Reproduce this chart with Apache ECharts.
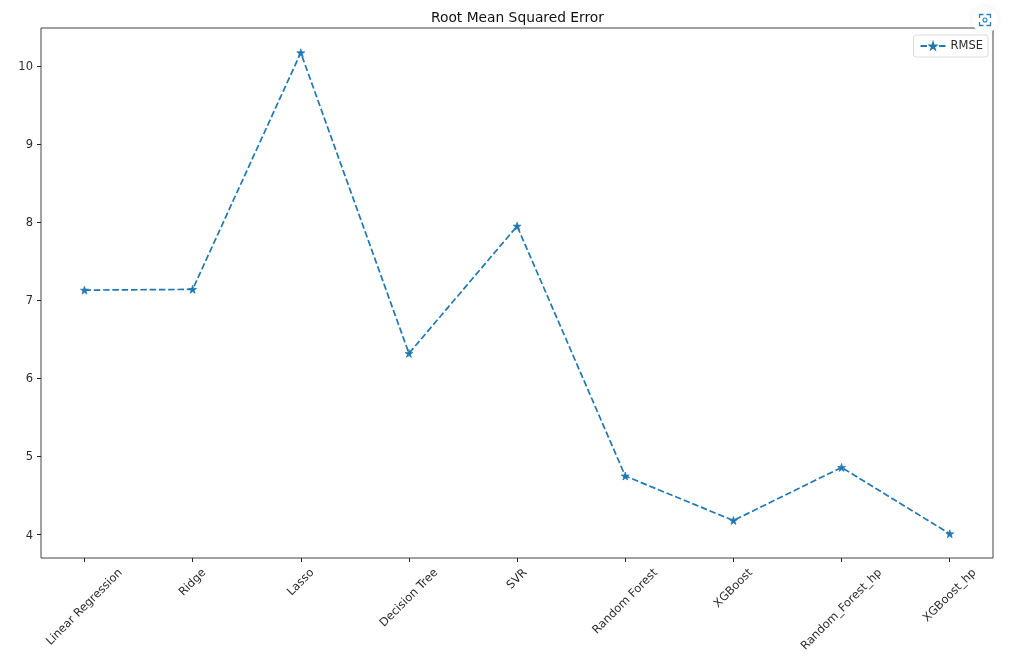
<!DOCTYPE html>
<html><head><meta charset="utf-8">
<style>html,body{margin:0;padding:0;background:#fff}#c{width:1028px;height:667px}</style>
<script src="https://cdn.jsdelivr.net/npm/echarts@6/dist/echarts.min.js"></script></head>
<body><div id="c"></div>
<script>
const categories = ['Linear Regression','Ridge','Lasso','Decision Tree','SVR','Random Forest','XGBoost','Random_Forest_hp','XGBoost_hp'];
const rmse = [7.13,7.14,10.17,6.32,7.95,4.75,4.18,4.86,4.01];
const yTicks = [4,5,6,7,8,9,10];
const seriesName = 'RMSE';
const titleText = 'Root Mean Squared Error';

const FONT = 'DejaVu Sans';
const INK = '#2b2b2b';
const star = 'path://M50 0L61.8 35.6L100 36.3L69.4 59.1L80.6 95.1L50 73.6L19.4 95.1L30.6 59.1L0 36.3L38.2 35.6Z';
const ctx = document.createElement('canvas').getContext('2d');
ctx.font = '11.5px "'+FONT+'"';
const rich = {};
categories.forEach((c,i)=>{
  const L = ctx.measureText(c).width;
  rich['l'+i] = {fontFamily:FONT,fontSize:11.5,color:INK,padding:[L/2,L/2,0,0]};
});
const corner = pts => ({type:'polyline',shape:{points:pts},style:{fill:'none',stroke:'#2a7fc1',lineWidth:1.3}});
const chart = echarts.init(document.getElementById('c'),null,{renderer:'canvas'});
chart.setOption({
  animation:false,
  backgroundColor:'#fff',
  title:{text:titleText,left:431,top:11,padding:0,
    textStyle:{fontFamily:FONT,fontSize:13.8,fontWeight:'normal',color:'#111'}},
  grid:{left:41,right:35,top:28,bottom:109,show:true,borderColor:'#444',borderWidth:1,backgroundColor:'#fff'},
  legend:{right:40,top:35,orient:'horizontal',padding:[5,5,5,6],itemWidth:25,itemHeight:7,itemGap:0,
    backgroundColor:'#fff',borderColor:'#dcdcdc',borderWidth:1,borderRadius:3,
    textStyle:{fontFamily:FONT,fontSize:11.5,color:INK}},
  xAxis:{type:'value',min:-0.402,max:8.4,
    splitLine:{show:false},
    axisLine:{show:false,onZero:false},
    axisTick:{show:true,length:4,lineStyle:{color:'#222',width:1},customValues:categories.map((_,i)=>i)},
    axisLabel:{show:true,rotate:45,align:'center',verticalAlign:'middle',margin:13,
      customValues:categories.map((_,i)=>i),
      formatter:v=>'{l'+v+'|'+categories[v]+'}',rich}},
  yAxis:{type:'value',min:3.7,max:10.487,
    splitLine:{show:false},
    axisLine:{show:false,onZero:false},
    axisTick:{show:true,length:4,lineStyle:{color:'#222',width:1},customValues:yTicks},
    axisLabel:{show:true,margin:8,customValues:yTicks,formatter:v=>'{y|'+v+'}',
      rich:{y:{fontFamily:FONT,fontSize:11.5,color:INK,padding:[2,0,0,0]}}}},
  series:[{name:seriesName,type:'line',data:rmse.map((v,i)=>[i,v]),
    symbol:star,symbolSize:8,showAllSymbol:true,
    lineStyle:{color:'#1f77b4',width:1.7,type:[6.5,2.8]},
    itemStyle:{color:'#1f77b4',borderColor:'#1f77b4',borderWidth:0.7}}],
  graphic:[{type:'group',left:972,top:7,children:[
    {type:'circle',shape:{cx:12,cy:12,r:13},style:{fill:'#fff',shadowBlur:6,shadowColor:'rgba(0,0,0,0.08)'}},
    corner([[6.5,10],[6.5,6.5],[10.5,6.5]]),
    corner([[13.5,6.5],[17.5,6.5],[17.5,10]]),
    corner([[17.5,14],[17.5,17.5],[13.5,17.5]]),
    corner([[10.5,17.5],[6.5,17.5],[6.5,14]]),
    {type:'circle',shape:{cx:12,cy:12,r:2},style:{fill:'none',stroke:'#2a7fc1',lineWidth:1.1}}
  ]}]
});
</script></body></html>
